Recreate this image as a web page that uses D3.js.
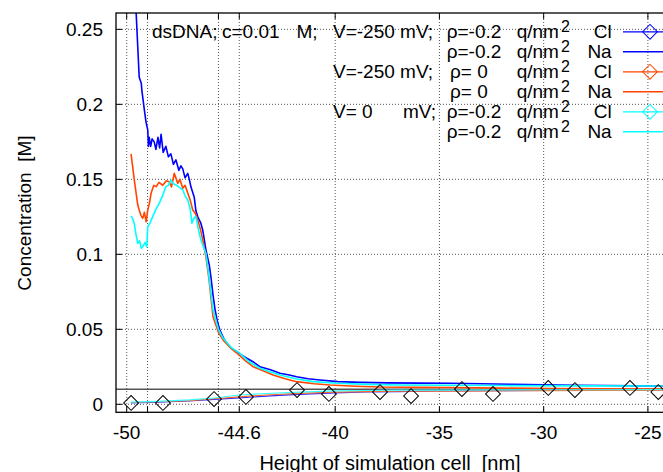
<!DOCTYPE html>
<html>
<head>
<meta charset="utf-8">
<script src="https://cdn.jsdelivr.net/npm/d3@7"></script>
<style>
  body { margin: 0; background: #fff; }
  svg { display: block; font-family: "Liberation Sans", Arial, sans-serif; }
  text { white-space: pre; }
</style>
</head>
<body>
<script>
// Ion concentration profiles near the dsDNA surface

const width = 663;
const height = 472;
const margin = { left: 116, top: 13, right: 670, bottom: 412.3 };

// tick values and labels
const xTicks = [-50, -44.6, -40, -35, -30, -25];
const xTickLabels = ["-50", "-44.6", "-40", "-35", "-30", "-25"];
const xExtraGrid = [-49, -45.6];
const yTicks = [0, 0.05, 0.1, 0.15, 0.2, 0.25];
const yTickLabels = ["0", "0.05", "0.1", "0.15", "0.2", "0.25"];
const bulk = 0.01;

// Na+ profiles [height nm, concentration M]
const naBlue = [[-49.75,0.30],[-49.55,0.262],[-49.4,0.218],[-49.3,0.214],[-49.27,0.209],[-49.15,0.196],[-49.07,0.188],[-48.99,0.183],
  [-48.96,0.172],[-48.92,0.178],[-48.85,0.172],[-48.78,0.177],[-48.68,0.175],[-48.6,0.170],[-48.5,0.178],[-48.42,0.171],
  [-48.35,0.180],[-48.25,0.168],[-48.12,0.172],[-48.0,0.165],[-47.88,0.167],[-47.76,0.160],[-47.64,0.163],[-47.5,0.156],
  [-47.4,0.159],[-47.31,0.157],[-47.2,0.151],[-47.07,0.154],[-46.98,0.149],[-46.92,0.145],[-46.76,0.138],[-46.68,0.129],
  [-46.59,0.125],[-46.45,0.121],[-46.35,0.116],[-46.2,0.103],[-46.12,0.098],[-46.04,0.093],[-45.96,0.085],[-45.86,0.073],
  [-45.76,0.063],[-45.63,0.054],[-45.53,0.0495],[-45.35,0.044],[-45.2,0.0407],[-44.95,0.037],[-44.72,0.0351],[-44.5,0.033],
  [-44.24,0.0307],[-43.9,0.028],[-43.61,0.0251],[-43.1,0.023],[-42.65,0.0207],[-42.2,0.0195],[-41.85,0.0184],[-41.3,0.017],
  [-40.73,0.0162],[-39.87,0.0151],[-38.8,0.0146],[-37.5,0.0143],[-36,0.0141],[-34.5,0.0140],[-33,0.0137],[-31.5,0.0133],
  [-30,0.0130],[-28.5,0.0127],[-27,0.0125],[-25.5,0.0123],[-24,0.0122]];

const naOrange = [[-49.79,0.167],[-49.71,0.158],[-49.63,0.149],[-49.55,0.141],[-49.47,0.133],[-49.40,0.1295],[-49.32,0.126],
  [-49.23,0.124],[-49.15,0.128],[-49.07,0.1217],[-48.99,0.1295],[-48.91,0.134],[-48.83,0.1407],[-48.7,0.146],[-48.59,0.1451],
  [-48.45,0.148],[-48.27,0.146],[-48.1,0.149],[-47.96,0.1484],[-47.85,0.145],[-47.72,0.154],[-47.55,0.1473],[-47.45,0.150],
  [-47.31,0.144],[-47.2,0.146],[-47.07,0.1407],[-46.95,0.136],[-46.83,0.1295],[-46.7,0.127],[-46.59,0.1229],[-46.45,0.116],
  [-46.35,0.1095],[-46.2,0.0984],[-46.05,0.083],[-45.86,0.0584],[-45.6,0.048],[-45.38,0.0429],[-45.05,0.038],[-44.72,0.0342],
  [-44.3,0.029],[-43.94,0.0251],[-43.4,0.022],[-42.98,0.0195],[-42.4,0.017],[-41.85,0.0151],[-41.0,0.0137],[-40.25,0.0129],
  [-39,0.0120],[-37.85,0.0115],[-36,0.0113],[-34.5,0.0112],[-32,0.0108],[-29.7,0.0105],[-27,0.0103],[-24,0.0102]];

const naCyan = [[-49.79,0.1255],[-49.72,0.124],[-49.64,0.1207],[-49.55,0.113],[-49.47,0.1073],[-49.38,0.109],[-49.3,0.104],
  [-49.23,0.1051],[-49.12,0.108],[-49.04,0.1051],[-48.99,0.1184],[-48.88,0.121],[-48.75,0.1251],[-48.6,0.130],[-48.44,0.134],
  [-48.28,0.139],[-48.12,0.1451],[-48.0,0.146],[-47.88,0.1495],[-47.76,0.147],[-47.64,0.1462],[-47.5,0.145],[-47.31,0.1429],
  [-47.2,0.139],[-47.07,0.1362],[-46.95,0.130],[-46.87,0.1207],[-46.78,0.124],[-46.68,0.1251],[-46.55,0.116],[-46.44,0.1095],
  [-46.2,0.1007],[-46.05,0.085],[-45.86,0.0629],[-45.6,0.050],[-45.38,0.0442],[-45.0,0.038],[-44.57,0.034],[-44.1,0.028],
  [-43.61,0.024],[-43.1,0.0215],[-42.65,0.0195],[-41.9,0.017],[-41.07,0.0151],[-39.87,0.0140],[-38.5,0.0133],[-36.9,0.0129],
  [-34.5,0.0127],[-32.1,0.0125],[-28,0.0123],[-24,0.0122]];

// Cl- profiles
const clBlue = [[-49.8,0.0010],[-48.5,0.0015],[-47,0.0022],[-45.8,0.0033],[-44.6,0.0043],[-43.3,0.0055],[-42,0.0065],
  [-40,0.0076],[-38.5,0.0082],[-37,0.0085],[-35,0.0089],[-32.5,0.0091],[-30,0.0093],[-27.5,0.0094],[-24,0.0095]];
const clOrange = [[-49.8,0.0012],[-48.5,0.0017],[-47,0.0025],[-45.8,0.0037],[-44.6,0.0050],[-43.3,0.0062],[-42,0.0071],
  [-40,0.0081],[-38.5,0.0085],[-37,0.0087],[-35,0.0088],[-32.5,0.0090],[-30,0.0091],[-27.5,0.0092],[-24,0.0092]];
const clCyan = [[-49.8,0.0015],[-48.5,0.0020],[-47,0.0029],[-45.8,0.0042],[-44.6,0.0062],[-43.3,0.0072],[-42,0.0080],
  [-40,0.0089],[-38.5,0.0092],[-37,0.0094],[-35,0.0095],[-32.5,0.0096],[-30,0.0097],[-27.5,0.0097],[-24,0.0098]];

// sparse point markers drawn on the Cl profiles
const clPoints = [[-49.79,0.0009],[-48.26,0.0009],[-45.81,0.0035],[-44.28,0.0049],[-41.83,0.0095],[-40.3,0.0069],
  [-37.85,0.0082],[-36.36,0.0055],[-33.92,0.0102],[-32.43,0.0069],[-29.78,0.0109],[-28.5,0.0095],[-25.86,0.0109],[-24.5,0.0082]];

const series = [
  { data: naBlue, color: "#0000ff", w: 1.6 },
  { data: clBlue, color: "#2a2aff", w: 1.2 },
  { data: naOrange, color: "#ff4500", w: 1.6 },
  { data: clOrange, color: "#ff6a2a", w: 1.2 },
  { data: naCyan, color: "#00ffff", w: 1.6 },
  { data: clCyan, color: "#33ffff", w: 1.2 }
];

const legendRows = [
  { v: "V=-250 mV;", rho: "ρ=-0.2", ion: "Cl", color: "#0000ff", w: 1.2, marker: true },
  { v: "", rho: "ρ=-0.2", ion: "Na", color: "#0000ff", w: 1.6, marker: false },
  { v: "V=-250 mV;", rho: "ρ= 0", ion: "Cl", color: "#ff4500", w: 1.2, marker: true },
  { v: "", rho: "ρ= 0", ion: "Na", color: "#ff4500", w: 1.6, marker: false },
  { v: "V= 0", rho: "ρ=-0.2", ion: "Cl", color: "#00ffff", w: 1.2, marker: true },
  { v: "", rho: "ρ=-0.2", ion: "Na", color: "#00ffff", w: 1.6, marker: false }
];

const x = d3.scaleLinear().domain([-50.513, -23.94]).range([margin.left, margin.right]);
const y = d3.scaleLinear().domain([-0.00533, 0.2609]).range([margin.bottom, margin.top]);

const svg = d3.select("body").append("svg")
    .attr("width", width)
    .attr("height", height);

svg.append("clipPath").attr("id", "plot-clip")
  .append("rect")
    .attr("x", margin.left).attr("y", margin.top)
    .attr("width", margin.right - margin.left).attr("height", margin.bottom - margin.top);

const fontSize = 19;

// grid
const grid = svg.append("g").attr("stroke", "#555").attr("stroke-width", 1).attr("stroke-dasharray", "1,2");
xTicks.concat(xExtraGrid).forEach(v => {
    grid.append("line").attr("x1", x(v)).attr("x2", x(v)).attr("y1", margin.top).attr("y2", margin.bottom);
});
yTicks.forEach(v => {
    grid.append("line").attr("x1", margin.left).attr("x2", margin.right).attr("y1", y(v)).attr("y2", y(v));
});

// bulk concentration reference line
svg.append("line")
    .attr("x1", margin.left).attr("x2", margin.right)
    .attr("y1", y(bulk)).attr("y2", y(bulk))
    .attr("stroke", "#555").attr("stroke-width", 1.4);

// curves
const line = d3.line().x(d => x(d[0])).y(d => y(d[1]));
const plot = svg.append("g").attr("clip-path", "url(#plot-clip)");
series.forEach(s => {
    plot.append("path")
        .attr("d", line(s.data))
        .attr("fill", "none")
        .attr("stroke", s.color)
        .attr("stroke-width", s.w)
        .attr("stroke-linejoin", "round");
});

const diamond = d3.symbol().type(d3.symbolSquare).size(110);
plot.selectAll(".pt").data(clPoints).join("path")
    .attr("d", diamond)
    .attr("transform", d => `translate(${x(d[0])},${y(d[1])}) rotate(45)`)
    .attr("fill", "none")
    .attr("stroke", "#000")
    .attr("stroke-width", 1);

// border and ticks
svg.append("rect")
    .attr("x", margin.left).attr("y", margin.top)
    .attr("width", margin.right - margin.left).attr("height", margin.bottom - margin.top)
    .attr("fill", "none").attr("stroke", "#000").attr("stroke-width", 1.3);

const ticks = svg.append("g").attr("stroke", "#000").attr("stroke-width", 1);
xTicks.concat(xExtraGrid).forEach(v => {
    ticks.append("line").attr("x1", x(v)).attr("x2", x(v)).attr("y1", margin.bottom).attr("y2", margin.bottom - 6);
    ticks.append("line").attr("x1", x(v)).attr("x2", x(v)).attr("y1", margin.top).attr("y2", margin.top + 6);
});
yTicks.forEach(v => {
    ticks.append("line").attr("x1", margin.left).attr("x2", margin.left + 6).attr("y1", y(v)).attr("y2", y(v));
});

// tick labels
svg.append("g").selectAll("text").data(xTicks).join("text")
    .attr("x", d => x(d)).attr("y", 438.5)
    .attr("text-anchor", "middle")
    .attr("font-size", fontSize)
    .text((d, i) => xTickLabels[i]);

svg.append("g").selectAll("text").data(yTicks).join("text")
    .attr("x", 103).attr("y", d => y(d) + 6.7)
    .attr("text-anchor", "end")
    .attr("font-size", fontSize)
    .text((d, i) => yTickLabels[i]);

// axis titles
svg.append("text")
    .attr("x", 390).attr("y", 469.5)
    .attr("text-anchor", "middle")
    .attr("font-size", 20)
    .text("Height of simulation cell  [nm]");

svg.append("text")
    .attr("transform", "translate(31,213) rotate(-90)")
    .attr("text-anchor", "middle")
    .attr("font-size", fontSize)
    .text("Concentration  [M]");

// legend
const legend = svg.append("g").attr("font-size", fontSize).attr("fill", "#000");
legend.append("text").attr("x", 152).attr("y", 38.3).text("dsDNA;");
legend.append("text").attr("x", 222).attr("y", 38.3).text("c=0.01");
legend.append("text").attr("x", 296.5).attr("y", 38.3).text("M;");

legendRows.forEach((r, i) => {
    const by = 38.3 + 20 * i;
    if (r.v === "V= 0") {
        legend.append("text").attr("x", 333).attr("y", by).text("V= 0");
        legend.append("text").attr("x", 403).attr("y", by).text("mV;");
    } else if (r.v) {
        legend.append("text").attr("x", 333).attr("y", by).text(r.v);
    }
    legend.append("text").attr("x", r.rho === "ρ= 0" ? 450 : 446.7).attr("y", by).text(r.rho);
    legend.append("text").attr("x", 516.7).attr("y", by).text("q/nm");
    legend.append("text").attr("x", 561).attr("y", by - 6.6).attr("font-size", 16).text("2");
    legend.append("text").attr("x", 611.7).attr("y", by).attr("text-anchor", "end").text(r.ion);

    const ly = by - 6.5;
    legend.append("line")
        .attr("x1", 623).attr("x2", 675).attr("y1", ly).attr("y2", ly)
        .attr("stroke", r.color).attr("stroke-width", r.w);
    if (r.marker) {
        legend.append("path")
            .attr("d", diamond)
            .attr("transform", `translate(650,${ly}) rotate(45)`)
            .attr("fill", "none")
            .attr("stroke", r.color)
            .attr("stroke-width", 1);
    }
});
</script>
</body>
</html>
